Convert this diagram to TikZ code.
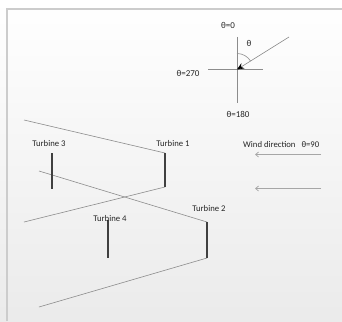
\documentclass[tikz,border=0pt]{standalone}
\usepackage{fontspec}
\setmainfont{Carlito}
\usetikzlibrary{arrows.meta}
\begin{document}
\begin{tikzpicture}[x=1pt,y=-1pt,
  lbl/.style={inner sep=0pt, text=black!85, font=\fontsize{8.7}{10}\selectfont},
  ang/.style={inner sep=0pt, text=black!85, font=\fontsize{9}{11}\selectfont},
  guide/.style={draw=black!45, line width=0.6pt},
  bar/.style={draw=black!75, line width=2.3pt},
  wind/.style={draw=black!35, line width=0.7pt, -{Straight Barb[length=3pt,width=5pt]}}]
\shade[top color=white, bottom color=black!8] (0,0) rectangle (342,321);
\useasboundingbox (0,0) rectangle (342,321);
\draw[black!20, line width=1.5pt] (7,321) -- (7,9) -- (342,9);
% angle diagram
\coordinate (o) at (237,69.5);
\coordinate (n) at (237,37);
\coordinate (s) at (237,103);
\coordinate (w) at (208,69.5);
\coordinate (e) at (263,69.5);
\coordinate (d) at (289,37);
\coordinate (arcs) at (237,53.5);
\draw[guide] (n) -- (s);
\draw[guide] (w) -- (e);
\draw[guide, -{Stealth[length=7pt,width=6pt,black]}] (d) -- (o);
\draw[guide] (arcs) arc[start angle=-90, end angle=-31.6, radius=16];
\node[ang] (a0) at (228,25) {θ=0};
\node[ang] (a270) at (188,73) {θ=270};
\node[ang] (a180) at (238,114) {θ=180};
\node[ang] (ath) at (249,43) {θ};
% turbines
\coordinate (t1a) at (165,153);
\coordinate (t1b) at (165,187);
\coordinate (t2a) at (207,222);
\coordinate (t2b) at (207,258);
\coordinate (t3a) at (52,153);
\coordinate (t3b) at (52,189);
\coordinate (t4a) at (108,220);
\coordinate (t4b) at (108,258);
\coordinate (la) at (24,120);
\coordinate (lb) at (24,222);
\coordinate (lc) at (39,171);
\coordinate (ld) at (39,307);
\draw[guide] (la) -- (t1a);
\draw[guide] (t1b) -- (lb);
\draw[guide] (lc) -- (t2a);
\draw[guide] (t2b) -- (ld);
\draw[bar] (t1a) -- (t1b);
\draw[bar] (t2a) -- (t2b);
\draw[bar] (t3a) -- (t3b);
\draw[bar] (t4a) -- (t4b);
\node[lbl] (n3) at (49,144) {Turbine 3};
\node[lbl] (n1) at (173,144) {Turbine 1};
\node[lbl] (n2) at (209,208.5) {Turbine 2};
\node[lbl] (n4) at (110,218.5) {Turbine 4};
% wind
\node[lbl, anchor=west] (wd) at (243,144.5) {Wind direction\hspace{6pt}θ=90};
\coordinate (w1s) at (321,154.5);
\coordinate (w1e) at (255,154.5);
\coordinate (w2s) at (321,188.5);
\coordinate (w2e) at (255,188.5);
\draw[wind] (w1s) -- (w1e);
\draw[wind] (w2s) -- (w2e);
\end{tikzpicture}
\end{document}
